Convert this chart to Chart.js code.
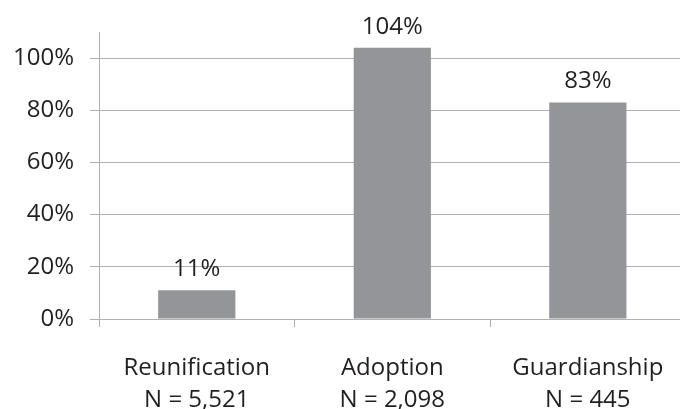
<!DOCTYPE html>
<html>
<head>
<meta charset="utf-8">
<script src="https://cdn.jsdelivr.net/npm/chart.js@4"></script>
<style>
  html, body { margin: 0; padding: 0; background: #fff; overflow: hidden; }
  #wrap { width: 690px; height: 409px; position: relative; }
</style>
</head>
<body>
<div id="wrap"><canvas id="myChart"></canvas></div>
<script>
// chart values
const categories = ['Reunification', 'Adoption', 'Guardianship'];
const sampleSizes = ['N = 5,521', 'N = 2,098', 'N = 445'];
const percents = [11, 104, 83];
const yTicks = [0, 20, 40, 60, 80, 100];

const textColor = '#231f20';
const lineColor = '#b1b1b1';
const fontFamily = "'Open Sans', 'Noto Sans', sans-serif";

// draws the % value above each bar
const barLabels = {
    id: 'barLabels',
    afterDatasetsDraw(chart) {
        const ctx = chart.ctx;
        const meta = chart.getDatasetMeta(0);
        ctx.save();
        ctx.font = '24px ' + fontFamily;
        ctx.fillStyle = textColor;
        ctx.textAlign = 'center';
        ctx.textBaseline = 'alphabetic';
        meta.data.forEach((bar, i) => {
            ctx.fillText(percents[i] + '%', bar.x, bar.y - 14);
        });
        ctx.restore();
    }
};

const chartConfig = {
    type: 'bar',
    data: {
        labels: categories.map((c, i) => [c, sampleSizes[i]]),
        datasets: [{
            data: percents,
            backgroundColor: '#939598',
            borderWidth: 0,
            categoryPercentage: 1,
            barPercentage: 0.395,
        }],
    },
    options: {
        responsive: false,
        animation: false,
        layout: { padding: { top: 32, left: 0, right: 4, bottom: 0 } },
        plugins: {
            legend: { display: false },
            tooltip: { enabled: false },
        },
        scales: {
            x: {
                grid: {
                    offset: true,
                    drawOnChartArea: false,
                    drawTicks: true,
                    tickLength: 8,
                    color: lineColor,
                },
                border: { color: lineColor, width: 1 },
                ticks: {
                    color: textColor,
                    font: { family: fontFamily, size: 24, lineHeight: 1.3 },
                    padding: 26,
                    maxRotation: 0,
                },
                afterFit(scale) { scale.height = 90; },
            },
            y: {
                min: 0,
                max: 110,
                afterBuildTicks(axis) {
                    axis.ticks = yTicks.map(v => ({ value: v }));
                },
                grid: {
                    color: lineColor,
                    tickLength: 9,
                    drawTicks: true,
                },
                border: { color: lineColor, width: 1 },
                ticks: {
                    color: textColor,
                    font: { family: fontFamily, size: 24 },
                    padding: 16,
                    callback: v => v + '%',
                },
                afterFit(scale) { scale.width = 99; },
            },
        },
    },
    plugins: [barLabels],
};

const canvas = document.getElementById('myChart');
canvas.width = 690;
canvas.height = 409;
const myChart = new Chart(canvas, chartConfig);
</script>
</body>
</html>
